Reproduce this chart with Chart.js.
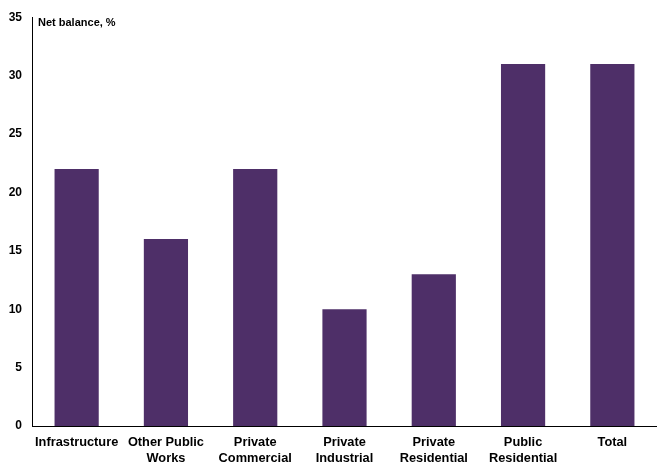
<!DOCTYPE html>
<html>
<head>
<meta charset="utf-8">
<script src="https://cdn.jsdelivr.net/npm/chart.js@4"></script>
<style>
  html, body { margin: 0; padding: 0; background: #fff; }
  #wrap { width: 657px; height: 464px; }
</style>
</head>
<body>
<div id="wrap"><canvas id="chart" width="657" height="464"></canvas></div>
<script>
const categories = [
    ['Infrastructure'],
    ['Other Public', 'Works'],
    ['Private', 'Commercial'],
    ['Private', 'Industrial'],
    ['Private', 'Residential'],
    ['Public', 'Residential'],
    ['Total']
];
const netBalance = [22, 16, 22, 10, 13, 31, 31];
const axisTitle = 'Net balance, %';

// small plugin to put the axis title inside the plot, next to the y axis
const cornerTitle = {
    id: 'cornerTitle',
    afterDraw(chart) {
        const ctx = chart.ctx;
        const area = chart.chartArea;
        ctx.save();
        ctx.font = 'bold 11px "Liberation Sans", Arial, sans-serif';
        ctx.fillStyle = '#000';
        ctx.textBaseline = 'middle';
        ctx.fillText(axisTitle, area.left + 6, area.top + 6);
        ctx.restore();
    }
};

const ctx = document.getElementById('chart').getContext('2d');
const chart = new Chart(ctx, {
    type: 'bar',
    data: {
        labels: categories,
        datasets: [{
            label: axisTitle,
            data: netBalance,
            backgroundColor: '#4e2f68',
            categoryPercentage: 1,
            barPercentage: 0.495
        }]
    },
    options: {
        responsive: false,
        animation: false,
        layout: { padding: { top: 16, right: 0, left: 0, bottom: 0 } },
        plugins: {
            legend: { display: false },
            tooltip: { enabled: false }
        },
        scales: {
            x: {
                grid: { display: false, drawTicks: false },
                border: { display: true, color: '#000', width: 1 },
                ticks: {
                    color: '#000',
                    padding: 8,
                    maxRotation: 0,
                    autoSkip: false,
                    font: { family: '"Liberation Sans", Arial, sans-serif', size: 12.8, weight: 'bold', lineHeight: 1.25 }
                },
                afterFit(scale) { scale.height = 38; }
            },
            y: {
                min: 0,
                max: 35,
                grid: { display: false, drawTicks: false },
                border: { display: true, color: '#000', width: 1 },
                ticks: {
                    stepSize: 5,
                    color: '#000',
                    padding: 10,
                    font: { family: '"Liberation Sans", Arial, sans-serif', size: 12, weight: 'bold' }
                },
                afterFit(scale) { scale.width = 32; }
            }
        }
    },
    plugins: [cornerTitle]
});
</script>
</body>
</html>
